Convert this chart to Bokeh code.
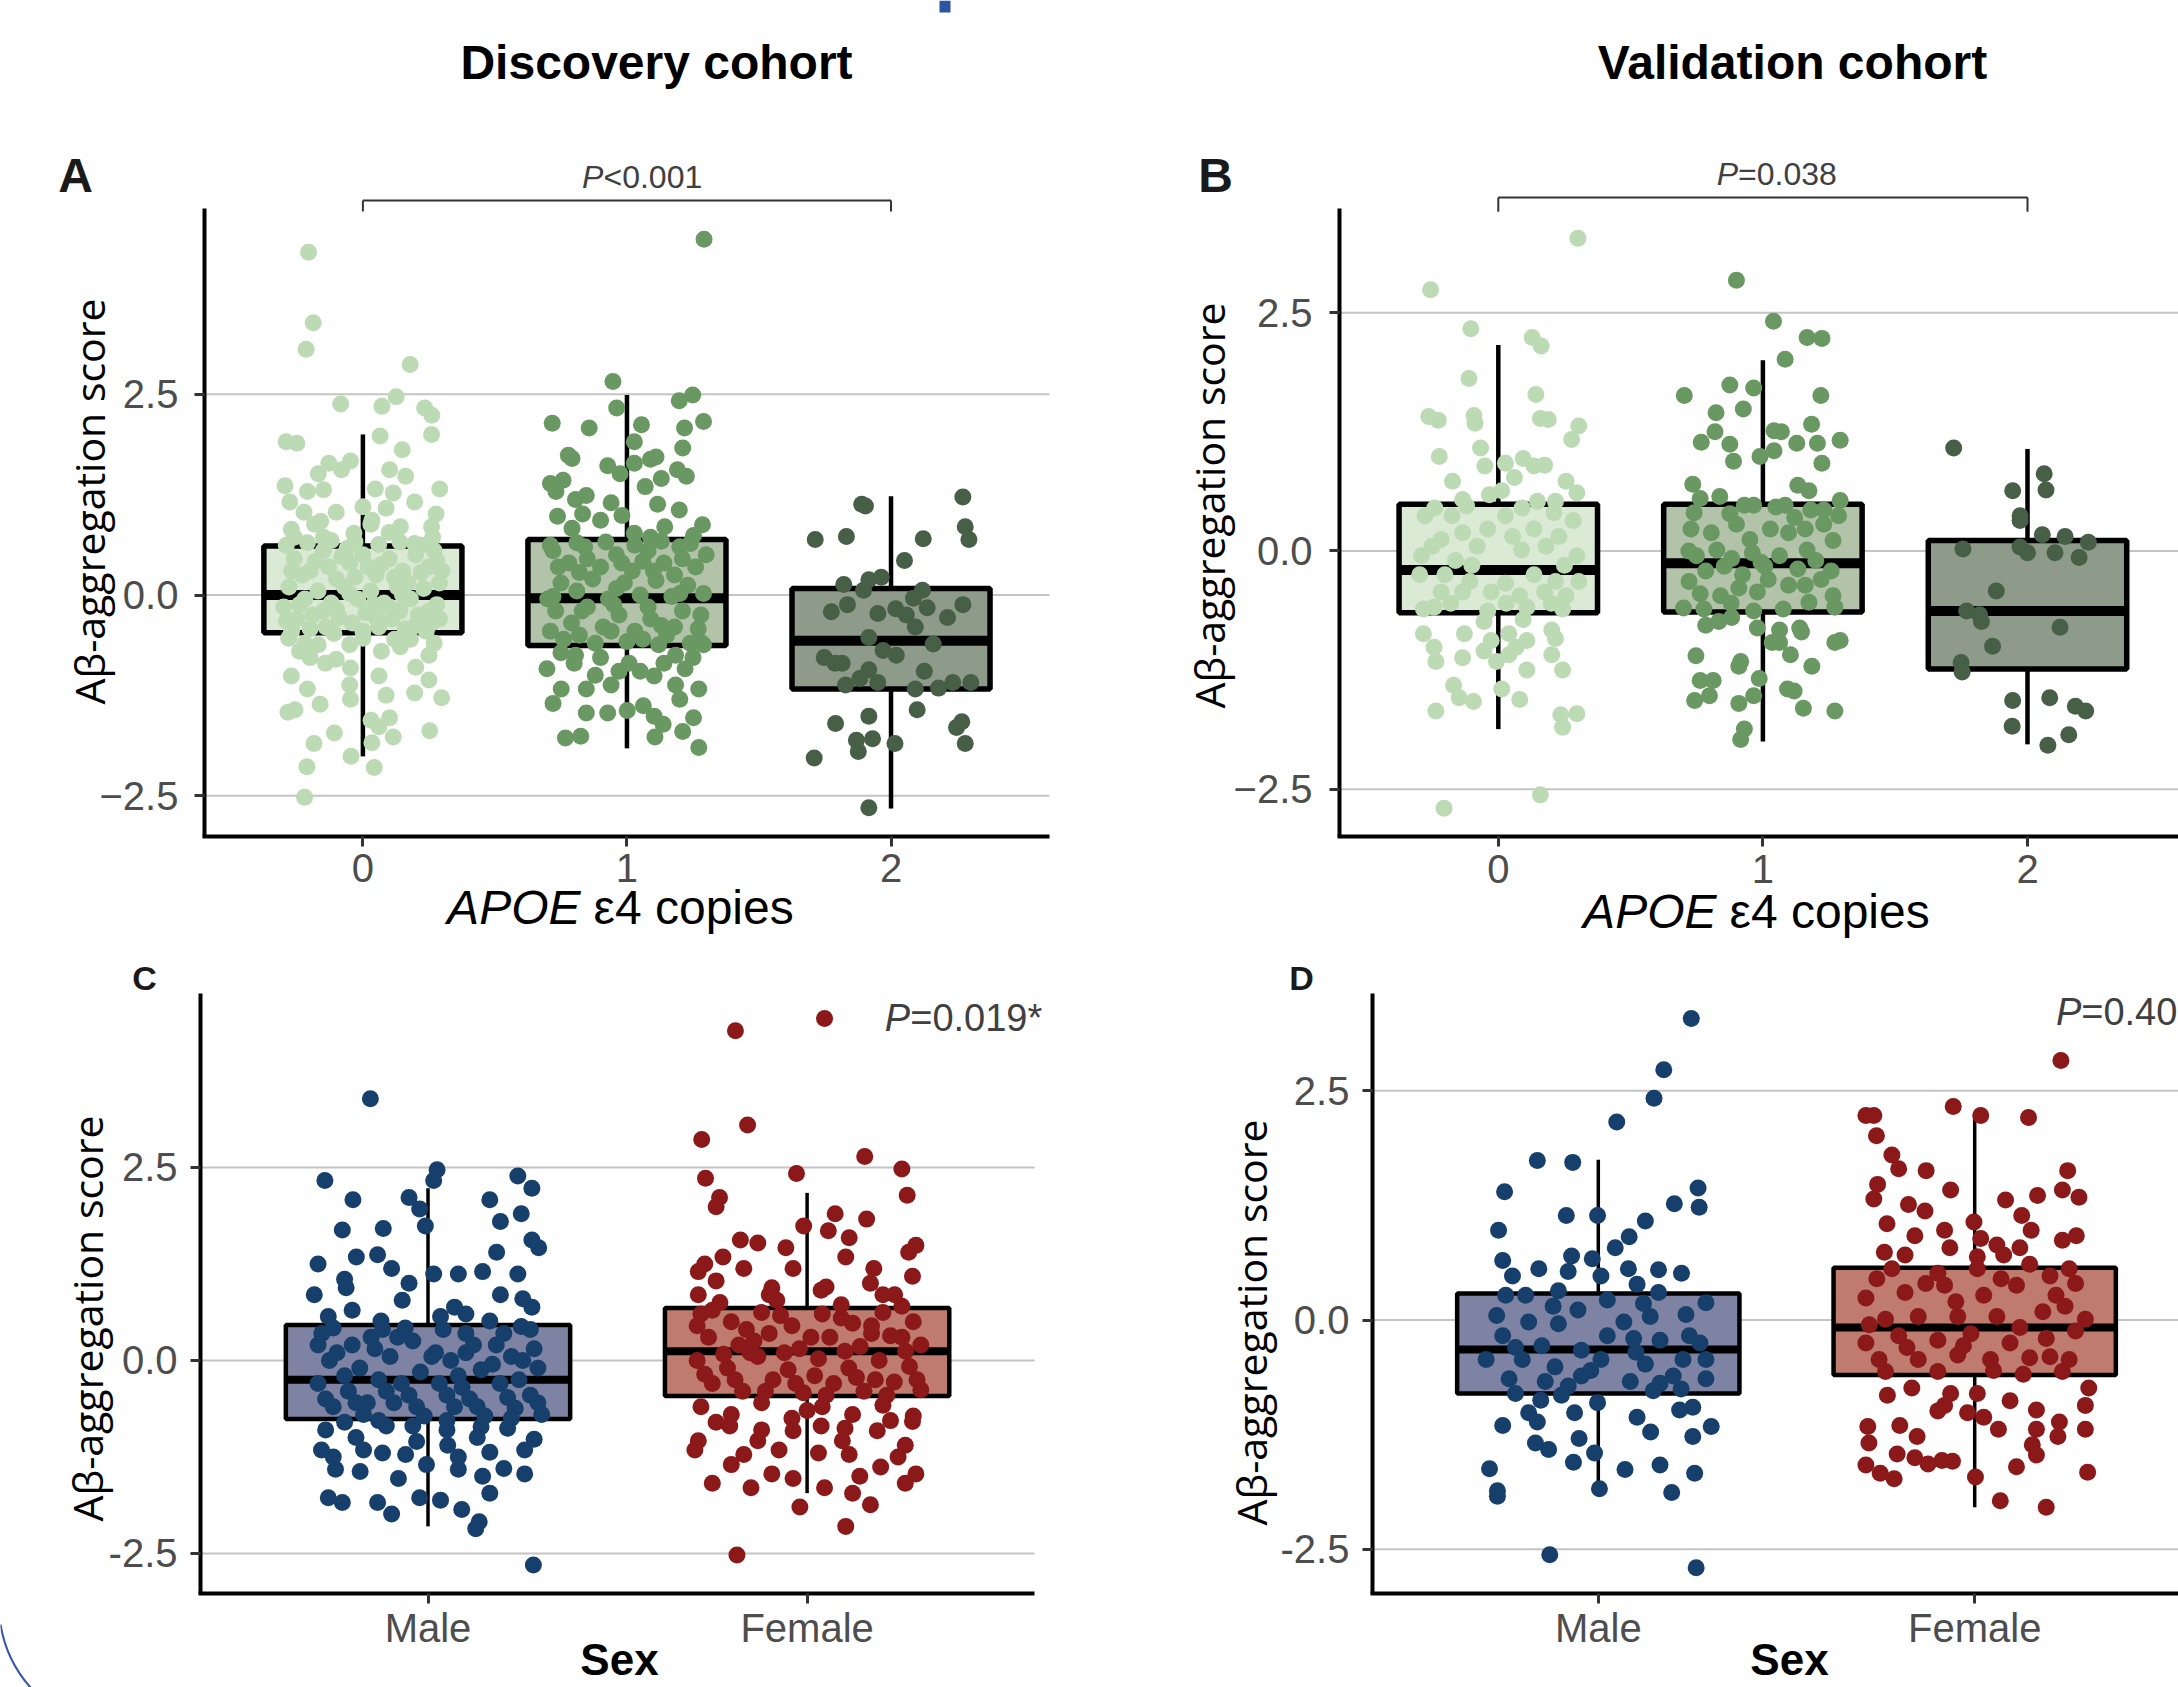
from bokeh.plotting import figure
from bokeh.layouts import column, row
from bokeh.models import Range1d, FixedTicker, Label
from bokeh.embed import file_html
from bokeh.resources import INLINE

# ---------------- data ----------------
apoe_labels = ["0", "1", "2"]
sex_labels = ["Male", "Female"]
y_ticks = [-2.5, 0.0, 2.5]
y_labels_minus = {-2.5: "\u22122.5", 0: "0.0", 2.5: "2.5"}
y_labels_hyphen = {-2.5: "-2.5", 0: "0.0", 2.5: "2.5"}
p_values = {"A": ("P", "<0.001"), "B": ("P", "=0.038"), "C": ("P", "=0.019*"), "D": ("P", "=0.40")}

# box statistics per group: (lower whisker, Q1, median, Q3, upper whisker)
disc_apoe_box = [(-2.01, -0.47, 0.00, 0.61, 2.00),
                 (-1.91, -0.63, -0.04, 0.69, 2.49),
                 (-2.66, -1.17, -0.57, 0.08, 1.23)]
val_apoe_box = [(-1.87, -0.65, -0.20, 0.49, 2.16),
                (-2.00, -0.64, -0.13, 0.49, 2.00),
                (-2.03, -1.24, -0.63, 0.11, 1.07)]
disc_sex_box = [(-2.15, -0.76, -0.25, 0.46, 2.23),
                (-1.72, -0.46, 0.12, 0.68, 2.17)]
val_sex_box = [(-1.76, -0.80, -0.32, 0.29, 1.75),
               (-2.04, -0.60, -0.08, 0.57, 2.20)]

# jittered points: (horizontal jitter offset, score)
disc_e4_0 = [(-0.206,4.27),(-0.188,3.39),(-0.215,3.06),(0.179,2.87),(-0.084,2.38),(0.072,2.35),(0.126,2.47),(0.234,2.33),
 (0.261,2.24),(0.260,2.00),(0.065,1.98),(0.149,1.81),(-0.291,1.91),(-0.250,1.89),(-0.047,1.67),(-0.129,1.64),(-0.081,1.56),
 (-0.169,1.51),(0.101,1.56),(0.162,1.48),(0.291,1.32),(-0.295,1.36),(-0.210,1.29),(-0.149,1.31),(0.047,1.32),(0.115,1.27),
 (0.196,1.16),(0.277,1.01),(-0.277,1.16),(-0.223,1.03),(-0.101,1.03),(0.000,1.10),(0.088,1.08),(-0.271,0.82),(-0.183,0.88),
 (0.142,0.85),(0.264,0.72),(-0.149,0.72),(-0.034,0.77),(0.034,0.93),(0.196,0.64),
 (-0.26,0.45),(-0.20,0.30),(-0.15,0.55),(-0.10,0.20),(-0.05,0.40),(0.00,0.50),(0.05,0.25),(0.10,0.45),(0.15,0.30),(0.20,0.50),
 (0.25,0.35),(0.29,0.15),(-0.28,0.10),(-0.22,-0.05),(-0.17,0.05),(-0.12,-0.10),(-0.07,0.10),(-0.02,-0.05),(0.03,0.05),
 (0.08,-0.10),(0.13,0.10),(0.18,-0.05),(0.23,0.08),(0.28,-0.12),(-0.25,-0.30),(-0.19,-0.25),(-0.14,-0.40),(-0.09,-0.28),
 (-0.04,-0.35),(0.01,-0.22),(0.06,-0.40),(0.11,-0.30),(0.16,-0.42),(0.21,-0.25),(0.26,-0.35),(-0.30,-0.15),(0.30,0.30),
 (-0.23,0.25),(-0.13,0.35),(-0.03,0.22),(0.07,0.38),(0.17,0.15),(0.27,0.55),(-0.27,-0.45),(-0.11,-0.48),(0.04,-0.12),
 (0.14,-0.20),(0.24,-0.45),(-0.06,0.58),
 (-0.29,0.62),(-0.21,0.65),(-0.12,0.68),(-0.03,0.66),(0.06,0.63),(0.14,0.66),(0.22,0.62),(-0.27,0.30),(-0.18,0.42),
 (-0.08,0.48),(0.02,0.35),(0.12,0.22),(0.22,0.28),(0.28,0.42),(-0.24,-0.12),(-0.15,-0.20),(-0.05,0.02),(0.05,-0.28),
 (0.15,0.00),(0.25,-0.20),(-0.29,-0.32),(-0.20,-0.42),(-0.10,-0.18),(0.00,-0.45),(0.10,-0.15),(0.20,-0.38),(0.29,-0.30),
 (-0.26,0.72),(0.10,0.78),(0.26,0.85),(-0.16,0.92),(0.03,0.88),(-0.22,-0.60),(-0.05,-0.62),(0.12,-0.55),(0.27,-0.60),
 (-0.281,-0.54),(-0.169,-0.62),(-0.101,-0.80),(0.000,-0.54),(0.142,-0.645),(0.250,-0.75),(-0.271,-1.01),(-0.210,-1.17),
 (-0.142,-0.85),(-0.047,-0.91),(0.061,-1.01),(0.196,-1.22),(0.298,-1.28),(0.250,-1.06),(-0.162,-1.36),(-0.047,-1.30),
 (0.088,-1.25),(-0.257,-1.43),(-0.284,-1.46),(0.031,-1.56),(0.101,-1.53),(0.061,-1.64),(0.115,-1.77),(0.253,-1.69),
 (-0.108,-1.72),(-0.185,-1.85),(0.034,-1.84),(-0.045,-2.01),(-0.212,-2.14),(0.043,-2.15),(-0.221,-2.52),
 (-0.24,-0.70),(0.07,-0.70),(0.20,-0.90),(-0.05,-1.12),(0.18,-0.55),(-0.20,-0.78)]
disc_e4_1 = [(0.292,4.43),(-0.053,2.66),(-0.039,2.33),(0.198,2.42),(0.249,2.49),(0.290,2.16),(-0.283,2.14),(-0.143,2.08),
 (0.055,2.12),(0.218,2.08),(0.028,1.91),(0.211,1.83),(-0.222,1.74),(-0.208,1.70),(-0.073,1.61),(-0.026,1.51),(0.028,1.64),
 (0.089,1.69),(0.110,1.72),(0.191,1.56),(0.225,1.48),(-0.290,1.39),(-0.242,1.43),(0.069,1.35),(0.130,1.45),(-0.269,1.29),
 (-0.195,1.19),(-0.154,1.24),(-0.060,1.15),(0.116,1.13),(0.198,1.06),(-0.263,0.98),(-0.168,1.01),(-0.100,0.93),(-0.019,0.99),
 (0.143,0.85),(0.286,0.875),(-0.208,0.83),(0.028,0.77),(0.252,0.74),(0.089,0.72),
 (-0.28,0.55),(-0.22,0.40),(-0.16,0.60),(-0.10,0.35),(-0.04,0.50),(0.02,0.30),(0.08,0.55),(0.14,0.40),(0.20,0.60),(0.26,0.35),
 (0.30,0.50),(-0.25,0.15),(-0.19,0.05),(-0.13,0.20),(-0.07,-0.05),(-0.01,0.15),(0.05,0.00),(0.11,0.18),(0.17,-0.02),
 (0.23,0.12),(0.29,0.02),(-0.27,-0.20),(-0.21,-0.35),(-0.15,-0.15),(-0.09,-0.40),(-0.03,-0.25),(0.03,-0.45),(0.09,-0.30),
 (0.15,-0.50),(0.21,-0.20),(0.27,-0.42),(-0.24,-0.55),(-0.12,-0.60),(0.00,-0.58),(0.12,-0.62),(0.24,-0.60),
 (-0.18,0.28),(0.06,0.42),(0.18,0.25),(-0.05,-0.12),(0.13,-0.38),(-0.30,-0.05),
 (-0.29,0.62),(-0.19,0.65),(-0.08,0.66),(0.03,0.62),(0.13,0.67),(0.24,0.64),(-0.26,0.35),(-0.15,0.45),(-0.02,0.40),
 (0.10,0.30),(0.21,0.45),(-0.28,-0.02),(-0.17,-0.20),(-0.04,0.08),(0.08,-0.15),(0.20,0.02),(0.28,-0.25),(-0.29,-0.45),
 (-0.18,-0.50),(-0.06,-0.45),(0.06,-0.55),(0.18,-0.40),(0.29,-0.62),(-0.20,-0.85),(-0.03,-0.95),(0.14,-0.85),(0.25,-0.78),
 (-0.12,-1.00),(0.20,-1.30),(-0.28,-1.35),
 (-0.303,-0.92),(-0.249,-1.17),(-0.154,-1.17),(-0.060,-1.12),(0.008,-0.85),(0.103,-1.01),(0.184,-1.12),(0.272,-1.17),
 (-0.195,-0.75),(0.184,-0.75),(0.279,-0.59),(-0.154,-1.47),(-0.073,-1.47),(0.001,-1.44),(0.062,-1.38),(0.103,-1.51),
 (0.137,-1.61),(0.252,-1.53),(-0.233,-1.78),(-0.175,-1.76),(0.106,-1.77),(0.211,-1.70),(0.272,-1.90),
 (-0.10,-0.78),(0.05,-0.95),(-0.25,-0.72),(0.22,-0.92)]
disc_e4_2 = [(-0.111,1.13),(-0.097,1.11),(0.272,1.22),(-0.287,0.69),(-0.169,0.73),(0.122,0.70),(0.281,0.85),(0.295,0.69),
 (0.051,0.43),(-0.179,0.13),(-0.084,0.19),(-0.037,0.22),(-0.104,0.06),(0.119,0.06),(0.085,-0.04),(-0.226,-0.21),(-0.165,-0.12),
 (-0.050,-0.23),(0.018,-0.17),(0.058,-0.25),(0.137,-0.16),(0.272,-0.12),(0.214,-0.28),(0.092,-0.40),(-0.084,-0.53),
 (-0.030,-0.69),(0.020,-0.75),(0.160,-0.61),(-0.253,-0.78),(-0.212,-0.85),(-0.185,-0.85),(-0.084,-0.93),(0.126,-0.95),
 (-0.172,-1.12),(-0.118,-1.04),(-0.050,-1.09),(0.092,-1.17),(0.180,-1.16),(0.234,-1.09),(0.302,-1.09),(0.099,-1.43),
 (-0.084,-1.51),(-0.210,-1.60),(0.248,-1.65),(0.268,-1.58),(-0.131,-1.81),(-0.070,-1.79),(-0.124,-1.95),(0.015,-1.85),
 (0.281,-1.85),(-0.291,-2.03),(-0.084,-2.65)]

val_e4_0 = [(0.301,3.28),(-0.256,2.74),(-0.104,2.33),(0.128,2.24),(0.162,2.15),(-0.111,1.81),(0.142,1.64),(-0.263,1.41),
 (-0.227,1.37),(-0.092,1.42),(-0.088,1.34),(0.159,1.39),(0.189,1.38),(0.304,1.31),(0.277,1.17),(-0.067,1.08),(-0.223,0.99),
 (-0.051,0.89),(0.027,0.92),(0.094,0.97),(0.135,0.89),(0.175,0.90),(0.061,0.77),(-0.173,0.73),(0.256,0.73),(0.297,0.61),
 (-0.135,0.54),(-0.034,0.59),(0.013,0.63),(0.148,0.52),(0.216,0.52),
 (-0.277,0.37),(-0.175,0.37),(0.027,0.37),(0.283,0.32),(-0.216,0.12),(-0.135,0.19),(-0.040,0.23),(0.054,0.15),(0.135,0.23),
 (0.229,0.15),(-0.290,-0.05),(-0.162,-0.10),(0.088,0.01),(0.297,-0.05),(-0.297,-0.25),(-0.202,-0.25),(-0.108,-0.32),
 (0.027,-0.34),(0.135,-0.25),(0.216,-0.32),(0.304,-0.32),(-0.216,-0.43),(-0.135,-0.43),(-0.027,-0.43),(0.081,-0.47),
 (0.175,-0.43),(0.256,-0.47),(-0.283,-0.61),(-0.243,-0.59),(-0.040,-0.63),(0.108,-0.59),(0.243,-0.61),
 (-0.24,0.45),(-0.12,0.47),(0.09,0.45),(0.21,0.40),(-0.25,0.05),(-0.08,0.05),(0.18,0.05),(-0.18,-0.55),(0.03,-0.55),
 (0.20,-0.55),(-0.10,-0.15),(0.25,-0.15),
 (-0.054,-0.74),(0.094,-0.72),(0.202,-0.83),(0.040,-0.87),(-0.283,-0.87),(-0.128,-0.87),(0.108,-0.94),(0.216,-0.92),
 (-0.027,-0.94),(-0.243,-1.01),(0.067,-1.01),(-0.135,-1.12),(-0.054,-1.05),(0.040,-1.09),(0.202,-1.09),(-0.236,-1.16),
 (-0.007,-1.16),(0.108,-1.25),(0.243,-1.25),(-0.169,-1.41),(-0.148,-1.54),(-0.094,-1.58),(0.013,-1.45),(0.081,-1.56),
 (-0.236,-1.68),(0.236,-1.72),(0.297,-1.71),(0.243,-1.85),(0.159,-2.56),(-0.205,-2.70)]
val_e4_1 = [(-0.100,2.84),(0.040,2.41),(0.167,2.24),(0.223,2.23),(0.084,2.01),(-0.297,1.63),(-0.125,1.74),(-0.035,1.71),
 (0.219,1.63),(-0.177,1.45),(-0.074,1.49),(-0.181,1.25),(-0.233,1.14),(0.042,1.26),(0.070,1.25),(0.184,1.33),(-0.125,1.12),
 (-0.111,0.94),(-0.011,0.99),(0.042,1.05),(0.128,1.13),(0.206,1.13),(0.292,1.16),(0.223,0.92),(-0.265,0.70),(-0.237,0.55),
 (-0.163,0.57),(0.132,0.69),(0.174,0.63),(0.292,0.53),
 (-0.070,0.48),(-0.035,0.48),(0.049,0.46),(0.084,0.48),(-0.125,0.39),(0.181,0.43),(0.230,0.43),(0.286,0.37),(-0.272,0.23),
 (-0.195,0.19),(-0.049,0.12),(0.028,0.23),(0.097,0.19),(0.160,0.23),(0.230,0.28),(0.265,0.11),(-0.251,-0.05),(-0.174,0.01),
 (-0.118,-0.08),(-0.007,-0.12),(0.063,-0.05),(0.167,0.01),(-0.216,-0.21),(-0.146,-0.16),(-0.077,-0.25),(0.007,-0.16),
 (0.132,-0.19),(0.258,-0.21),(-0.279,-0.32),(-0.237,-0.45),(-0.160,-0.47),(-0.091,-0.39),(-0.021,-0.43),(0.097,-0.36),
 (0.160,-0.36),(0.265,-0.47),(-0.223,-0.61),(-0.035,-0.63),(0.077,-0.61),(0.174,-0.54),(0.272,-0.59),
 (-0.26,0.40),(-0.10,0.28),(0.12,0.35),(-0.28,0.00),(-0.04,-0.02),(0.20,-0.10),(-0.12,-0.55),(0.02,-0.30),(0.22,-0.30),
 (-0.30,-0.60),
 (-0.216,-0.78),(-0.167,-0.74),(-0.118,-0.70),(-0.021,-0.81),(0.063,-0.83),(0.139,-0.81),(0.146,-0.85),(0.035,-0.96),
 (0.063,-0.96),(0.104,-1.09),(0.272,-0.96),(0.292,-0.94),(-0.253,-1.10),(-0.091,-1.21),(-0.084,-1.16),(-0.014,-1.34),
 (0.185,-1.21),(-0.237,-1.36),(-0.188,-1.36),(-0.202,-1.52),(-0.258,-1.57),(-0.091,-1.60),(-0.035,-1.52),(0.093,-1.45),
 (0.118,-1.47),(0.153,-1.65),(0.272,-1.68),(-0.070,-1.87),(-0.084,-1.98)]
val_e4_2 = [(-0.279,1.08),(0.063,0.81),(0.070,0.64),(-0.056,0.63),(-0.028,0.37),(-0.028,0.32),(0.056,0.17),(0.142,0.15),
 (0.230,0.09),(-0.244,0.02),(-0.028,0.04),(0.000,-0.02),(0.104,-0.02),(0.195,-0.07),(-0.118,-0.42),(-0.230,-0.63),
 (-0.181,-0.67),(-0.174,-0.74),(0.123,-0.80),(-0.132,-1.00),(-0.251,-1.17),(-0.247,-1.27),(-0.056,-1.57),(0.084,-1.54),
 (0.181,-1.63),(0.220,-1.68),(-0.058,-1.84),(0.156,-1.93),(0.077,-2.04)]

disc_male = [(-0.152,3.39),(-0.272,2.33),(-0.198,2.08),(-0.050,2.11),(0.024,2.47),(0.015,2.33),(-0.022,1.96),(-0.007,1.74),
 (0.163,2.08),(0.237,2.39),(0.274,2.23),(0.246,1.90),(0.191,1.80),(-0.226,1.69),(-0.118,1.71),(0.274,1.56),(0.292,1.46),
 (0.181,1.40),(-0.290,1.25),(-0.189,1.34),(-0.133,1.37),(-0.096,1.19),(0.015,1.12),(0.080,1.12),(0.144,1.15),(0.237,1.12),
 (-0.300,0.85),(-0.216,0.94),(-0.068,0.78),(0.070,0.69),(0.191,0.85),(0.274,0.69),(-0.263,0.57),(-0.124,0.51),(0.033,0.57),
 (0.163,0.51),(0.246,0.44),
 (-0.28,0.35),(-0.20,0.20),(-0.12,0.40),(-0.04,0.25),(0.04,0.40),(0.12,0.20),(0.20,0.35),(0.28,0.15),
 (-0.26,0.00),(-0.18,-0.10),(-0.10,0.05),(-0.02,-0.15),(0.06,0.00),(0.14,-0.12),(0.22,0.05),(0.29,-0.10),
 (-0.29,-0.30),(-0.21,-0.40),(-0.13,-0.25),(-0.05,-0.45),(0.03,-0.30),(0.11,-0.50),(0.19,-0.30),(0.27,-0.45),
 (-0.25,-0.60),(-0.17,-0.70),(-0.09,-0.55),(-0.01,-0.72),(0.07,-0.60),(0.15,-0.72),(0.23,-0.62),(0.30,-0.70),
 (-0.24,0.10),(-0.08,0.30),(0.08,-0.20),(0.24,-0.25),(-0.16,-0.55),(0.10,0.35),
 (-0.25,0.42),(-0.15,0.30),(-0.06,0.42),(0.02,0.10),(0.10,0.10),(0.18,0.20),(0.27,0.40),(-0.29,0.20),(-0.22,-0.20),
 (-0.14,0.15),(-0.07,-0.30),(0.01,0.05),(0.09,-0.35),(0.17,-0.05),(0.25,0.00),(-0.27,-0.50),(-0.19,-0.55),(-0.11,-0.40),
 (-0.03,-0.60),(0.05,-0.45),(0.13,-0.60),(0.21,-0.48),(0.29,-0.55),(-0.22,-0.80),(-0.13,-0.78),(-0.04,-0.85),(0.05,-0.78),
 (0.14,-0.86),(0.22,-0.75),(-0.25,-1.25),(0.08,-1.25),(0.20,-1.40),(-0.12,-1.20),(-0.20,0.65),(0.10,0.60),(0.25,0.80),
 (-0.05,1.00),(-0.22,1.05),
 (-0.27,-0.90),(-0.19,-1.00),(-0.11,-0.85),(-0.03,-1.05),(0.05,-0.90),(0.13,-1.00),(0.21,-0.88),(0.28,-1.02),
 (-0.281,-1.16),(-0.170,-1.16),(-0.059,-1.22),(0.052,-1.10),(0.163,-1.19),(0.255,-1.16),
 (-0.244,-1.41),(-0.179,-1.44),(-0.078,-1.53),(-0.004,-1.35),(0.080,-1.41),(0.144,-1.50),(0.255,-1.47),
 (-0.263,-1.78),(-0.226,-1.84),(-0.133,-1.84),(-0.096,-1.99),(-0.022,-1.78),(0.033,-1.81),(0.089,-1.93),(0.163,-1.72),
 (0.135,-2.09),(0.126,-2.18),(0.278,-2.65)]
disc_female = [(-0.189,4.27),(0.046,4.43),(-0.157,3.05),(-0.278,2.86),(0.152,2.64),(-0.028,2.42),(0.250,2.48),(-0.268,2.36),
 (0.264,2.14),(-0.231,2.11),(-0.240,1.99),(0.074,1.90),(0.157,1.83),(-0.009,1.74),(0.056,1.68),(0.111,1.59),(-0.176,1.56),
 (-0.130,1.52),(0.287,1.49),(0.268,1.40),(-0.056,1.46),(0.102,1.34),(-0.222,1.34),(-0.287,1.15),(-0.167,1.19),(-0.037,1.19),
 (0.176,1.19),(0.278,1.09),(-0.240,1.03),(-0.093,0.94),(0.037,0.91),(0.167,1.00),(-0.287,0.85),(0.231,0.85),
 (-0.28,0.60),(-0.20,0.50),(-0.12,0.62),(-0.04,0.45),(0.04,0.60),(0.12,0.48),(0.20,0.62),(0.28,0.50),
 (-0.26,0.30),(-0.18,0.20),(-0.10,0.35),(-0.02,0.15),(0.06,0.30),(0.14,0.18),(0.22,0.32),(0.30,0.20),
 (-0.29,0.00),(-0.21,-0.10),(-0.13,0.05),(-0.05,-0.12),(0.03,0.02),(0.11,-0.10),(0.19,0.00),(0.27,-0.08),
 (-0.25,-0.30),(-0.17,-0.40),(-0.09,-0.25),(-0.01,-0.42),(0.07,-0.30),(0.15,-0.40),(0.23,-0.28),(0.30,-0.38),
 (-0.23,0.75),(-0.08,0.78),(0.09,0.72),(0.25,0.70),(-0.15,0.10),(0.17,0.35),
 (-0.25,0.65),(-0.16,0.40),(-0.07,0.58),(0.01,0.30),(0.09,0.55),(0.17,0.45),(0.25,0.30),(-0.29,0.45),(-0.22,0.08),
 (-0.14,0.25),(-0.06,0.10),(0.02,-0.20),(0.10,0.12),(0.18,-0.25),(0.26,0.12),(-0.27,-0.18),(-0.19,-0.25),(-0.11,-0.40),
 (-0.03,-0.30),(0.05,-0.45),(0.13,-0.22),(0.21,-0.45),(0.29,-0.25),(-0.24,-0.80),(-0.12,-0.90),(0.00,-0.65),(0.10,-0.88),
 (0.22,-0.78),(-0.20,-1.35),(0.03,-1.20),(0.24,-1.25),(-0.10,0.85),(0.05,0.95),(0.20,0.85),(-0.27,1.25),
 (-0.28,-0.60),(-0.20,-0.70),(-0.12,-0.55),(-0.04,-0.75),(0.04,-0.60),(0.12,-0.70),(0.20,-0.58),(0.28,-0.72),
 (-0.287,-1.04),(-0.204,-0.85),(-0.130,-1.04),(-0.037,-0.91),(0.037,-0.85),(0.093,-1.04),(0.185,-0.91),(0.278,-0.79),
 (-0.296,-1.16),(-0.167,-1.22),(-0.074,-1.16),(0.111,-1.22),(0.259,-1.10),
 (-0.250,-1.59),(-0.148,-1.65),(-0.093,-1.47),(-0.037,-1.53),(0.046,-1.65),(0.139,-1.50),(0.194,-1.38),(0.259,-1.59),
 (0.287,-1.47),(-0.019,-1.90),(0.120,-1.72),(0.167,-1.87),(0.102,-2.15),(-0.185,-2.52)]

val_male = [(0.247,3.29),(0.174,2.73),(0.148,2.42),(0.049,2.16),(-0.162,1.74),(-0.068,1.72),(-0.249,1.40),(0.265,1.44),
 (0.202,1.27),(0.268,1.23),(-0.085,1.14),(-0.002,1.14),(0.125,1.08),(-0.265,0.98),(0.082,0.91),(0.045,0.79),(-0.254,0.65),
 (-0.071,0.70),(-0.016,0.67),(-0.158,0.56),(-0.080,0.53),(0.007,0.48),(0.080,0.56),(0.160,0.55),(0.221,0.51),(-0.228,0.48),
 (0.103,0.39),(-0.106,0.32),
 (-0.246,0.27),(-0.193,0.27),(0.024,0.22),(0.160,0.30),(0.286,0.19),
 (-0.185,-0.02),(-0.106,-0.04),(-0.054,0.11),(0.068,-0.02),(0.138,0.04),(0.233,0.06),
 (-0.254,-0.17),(-0.150,-0.28),(-0.045,-0.33),(0.024,-0.17),(0.094,-0.20),(0.164,-0.22),(0.242,-0.17),
 (-0.298,-0.43),(-0.202,-0.43),(-0.115,-0.51),(0.007,-0.43),(0.125,-0.48),(0.225,-0.43),(0.286,-0.43),
 (-0.237,-0.64),(-0.141,-0.67),(-0.045,-0.61),(0.085,-0.67),(0.164,-0.69),(0.199,-0.61),(0.286,-0.64),
 (-0.220,-0.80),(-0.098,-0.82),(0.146,-0.77),
 (-0.27,0.05),(-0.12,0.15),(0.12,0.18),(0.27,-0.25),(-0.22,-0.30),(-0.02,-0.55),(0.10,-0.35),(0.22,-0.75),(-0.08,-0.72),
 (-0.185,-1.01),(-0.063,-1.01),(-0.002,-0.90),(0.216,-0.98),(0.251,-0.95),(-0.153,-0.875),
 (-0.254,-1.15),(-0.162,-1.11),(0.103,-1.06),(0.139,-1.22),(0.251,-1.27),(0.300,-1.16),
 (-0.167,-1.34),(-0.132,-1.41),(-0.051,-1.29),(-0.010,-1.45),
 (-0.066,-1.55),(0.071,-1.63),(0.164,-1.58),(0.256,-1.67),
 (-0.289,-1.62),(-0.268,-1.86),(-0.268,-1.92),(0.003,-1.84),(0.195,-1.88),
 (-0.129,-2.56),(0.260,-2.70)]
val_female = [(0.229,2.83),(-0.057,2.33),(0.016,2.23),(0.143,2.21),(-0.289,2.23),(-0.268,2.23),(-0.261,2.01),(-0.220,1.80),
 (-0.202,1.65),(-0.129,1.63),(0.247,1.63),(-0.258,1.48),(-0.064,1.42),(0.233,1.42),(0.277,1.34),(-0.268,1.32),(0.082,1.31),
 (0.167,1.36),(-0.176,1.26),(-0.132,1.19),(0.125,1.14),(-0.233,1.05),(-0.002,1.07),(-0.080,0.98),(0.150,0.98),(-0.159,0.92),
 (0.270,0.92),(0.233,0.87),(0.016,0.89),(-0.066,0.79),(0.059,0.82),(0.120,0.79),(-0.240,0.74),(-0.185,0.71),(0.007,0.69),
 (0.077,0.71),
 (-0.220,0.56),(-0.098,0.51),(0.007,0.56),(0.146,0.61),(0.251,0.56),
 (-0.289,0.24),(-0.185,0.30),(-0.080,0.38),(0.024,0.27),(0.111,0.38),(0.216,0.27),(0.268,0.40),
 (-0.237,0.01),(-0.150,0.04),(-0.045,0.04),(0.059,0.04),(0.181,0.09),(0.294,0.01),
 (-0.289,-0.25),(-0.202,-0.17),(-0.098,-0.22),(-0.010,-0.15),(0.094,-0.25),(0.190,-0.20),(0.268,-0.12),
 (-0.254,-0.43),(-0.150,-0.43),(-0.045,-0.38),(0.042,-0.43),(0.146,-0.41),(0.251,-0.43),
 (-0.237,-0.56),(-0.098,-0.56),(0.129,-0.59),(0.233,-0.56),
 (-0.26,0.45),(-0.13,0.40),(0.07,0.45),(0.20,0.48),(-0.28,-0.05),(-0.03,-0.28),(0.12,-0.08),(0.24,0.15),(-0.18,-0.30),
 (0.05,-0.55),(0.20,-0.40),(-0.05,0.20),
 (0.303,-0.74),(-0.167,-0.74),(-0.064,-0.80),(0.007,-0.80),
 (-0.232,-0.82),(-0.080,-0.93),(0.094,-0.88),(0.294,-0.93),
 (-0.098,-0.99),(-0.019,-1.01),(0.024,-1.06),(0.164,-0.98),(0.225,-1.11),
 (-0.284,-1.16),(-0.199,-1.15),(0.063,-1.19),(0.164,-1.19),(0.294,-1.19),
 (-0.281,-1.34),(-0.153,-1.27),(0.221,-1.27),(0.153,-1.36),
 (-0.206,-1.46),(-0.159,-1.50),(-0.087,-1.53),(0.164,-1.47),
 (-0.289,-1.58),(-0.251,-1.67),(-0.214,-1.73),(-0.124,-1.57),(-0.059,-1.54),(0.111,-1.60),(0.300,-1.66),
 (0.002,-1.71),(0.068,-1.97),(0.190,-2.04)]

apoe_point_colors = ["#bcdbb4", "#6a9862", "#465f46"]
apoe_box_fills = ["#dbead5", "#b2c3aa", "#8f9b8a"]
sex_point_colors = ["#163f6b", "#8b1919"]
sex_box_fills = ["#7f83a3", "#bf7b6d"]

FONT = "Liberation Sans"
YTITLE = "A\u03b2-aggregation score"


class Geo:
    """page geometry of one panel: figure box and data->pixel mapping"""
    def __init__(self, left, top, width, height, x0, sx, y0, sy):
        self.left, self.top, self.width, self.height = left, top, width, height
        self.x0, self.sx, self.y0, self.sy = x0, sx, y0, sy

    def xr(self):
        return ((self.left - self.x0) / self.sx, (self.left + self.width - self.x0) / self.sx)

    def yr(self):
        return ((self.y0 - self.top - self.height) / self.sy, (self.y0 - self.top) / self.sy)

    def scr(self, X, Y):
        return X - self.left, self.top + self.height - Y

    def data(self, X, Y):
        return (X - self.x0) / self.sx, (self.y0 - Y) / self.sy


def make_panel(g, x_end, y_bot, y_top, cats, ylab_over, boxes, groups, pt_cols, fills,
               box_lw, med_lw, wh_lw, xstand, ystand):
    xr, yr = g.xr(), g.yr()
    x_end = min(x_end, xr[1])
    p = figure(width=g.width, height=g.height,
               x_range=Range1d(*xr), y_range=Range1d(*yr),
               output_backend="svg", toolbar_location=None,
               min_border_left=0, min_border_right=0, min_border_top=0, min_border_bottom=0)
    p.outline_line_color = None
    p.background_fill_color = "white"
    p.border_fill_color = "white"
    p.grid.visible = False
    # horizontal reference lines at the y ticks, across the panel only
    p.segment(x0=[-0.6] * len(y_ticks), x1=[x_end] * len(y_ticks), y0=y_ticks, y1=y_ticks,
              line_color="#c4c4c4", line_width=2)
    xa = p.xaxis[0]
    ya = p.yaxis[0]
    xa.fixed_location = y_bot
    ya.fixed_location = -0.6
    xa.ticker = FixedTicker(ticks=list(range(len(cats))))
    xa.major_label_overrides = {i: c for i, c in enumerate(cats)}
    ya.ticker = FixedTicker(ticks=y_ticks)
    ya.major_label_overrides = ylab_over
    ya.bounds = (y_bot, y_top)
    xa.bounds = (-0.6 - 2.0 / g.sx, x_end)
    for ax in (xa, ya):
        ax.axis_line_color = "black"
        ax.axis_line_width = 4
        ax.major_tick_line_color = "#333333"
        ax.major_tick_line_width = 3
        ax.major_tick_out = 10
        ax.major_tick_in = 0
        ax.minor_tick_line_color = None
        ax.major_label_text_font = FONT
        ax.major_label_text_font_size = "40px"
        ax.major_label_text_color = "#4d4d4d"
    xa.major_label_standoff = xstand
    ya.major_label_standoff = ystand

    xs = list(range(len(cats)))
    lo = [b[0] for b in boxes]
    q1 = [b[1] for b in boxes]
    md = [b[2] for b in boxes]
    q3 = [b[3] for b in boxes]
    hi = [b[4] for b in boxes]
    p.segment(x0=xs, x1=xs, y0=q3, y1=hi, line_color="black", line_width=wh_lw)
    p.segment(x0=xs, x1=xs, y0=lo, y1=q1, line_color="black", line_width=wh_lw)
    p.vbar(x=xs, width=0.75, bottom=q1, top=q3, fill_color=fills,
           line_color="black", line_width=box_lw)
    p.segment(x0=[x - 0.375 for x in xs], x1=[x + 0.375 for x in xs], y0=md, y1=md,
              line_color="black", line_width=med_lw)
    for i, (grp, c) in enumerate(zip(groups, pt_cols)):
        p.scatter(x=[i + d for d, _ in grp], y=[v for _, v in grp], size=17,
                  fill_color=c, line_color=None)
    return p


def add_label(p, x, y, text, size, style="normal", color="black", align="center",
              units="screen", font=FONT, angle=0):
    p.add_layout(Label(x=x, y=y, x_units=units, y_units=units, text=text,
                       text_font=font, text_font_size=size, text_font_style=style,
                       text_color=color, text_align=align, text_baseline="middle",
                       angle=angle, angle_units="deg"))


def add_page_label(p, g, X, Y, text, size, **kw):
    sx, sy = g.scr(X, Y)
    add_label(p, sx, sy, text, size, **kw)


# page geometry (pixels)
gA = Geo(0, 0, 1140, 945, 362.4, 264.06, 594.5, 80.28)
gB = Geo(1140, 0, 1038, 945, 1497.8, 264.6, 550.4, 95.3)
gC = Geo(0, 945, 1180, 742, 427.5, 379.1, 1359.9, 77.2)
gD = Geo(1180, 945, 998, 742, 1597.8, 376.4, 1319.6, 91.7)

# ---------- Panel A ----------
pA = make_panel(gA, 2.6, -3.008, 4.814, apoe_labels, y_labels_minus, disc_apoe_box,
                [disc_e4_0, disc_e4_1, disc_e4_2], apoe_point_colors, apoe_box_fills,
                5.5, 10, 4.5, 8, 16)
pA.segment(x0=[0, 0, 2], x1=[2, 0, 2], y0=[4.914, 4.914, 4.914], y1=[4.914, 4.777, 4.777],
           line_color="#333333", line_width=2)
add_label(pA, 0.911, 5.213, p_values["A"][0], "32px", style="italic", color="#404040", align="right", units="data")
add_label(pA, 0.911, 5.213, p_values["A"][1], "32px", color="#404040", align="left", units="data")
add_page_label(pA, gA, 656, 62, "Discovery cohort", "48px", style="bold")
add_page_label(pA, gA, 75, 175, "A", "48px", style="bold", color="#1a1a1a")
add_page_label(pA, gA, 580, 907, "APOE", "48px", style="italic", align="right")
add_page_label(pA, gA, 593, 907, "\u03b54 copies", "48px", align="left")
add_page_label(pA, gA, 88, 501, YTITLE, "41px", font="Open Sans", angle=90)
# small blue fragment of the surrounding figure at the top edge
bx0, by0 = gA.data(939, 12)
bx1, by1 = gA.data(950, 0)
pA.quad(left=[bx0], right=[bx1], bottom=[by0], top=[by1], fill_color="#2e55a2", line_color=None)

# ---------- Panel B ----------
pB = make_panel(gB, 2.6, -2.997, 3.593, apoe_labels, y_labels_minus, val_apoe_box,
                [val_e4_0, val_e4_1, val_e4_2], apoe_point_colors, apoe_box_fills,
                5.5, 10, 4.5, 8, 17)
pB.segment(x0=[0, 0, 2], x1=[2, 0, 2], y0=[3.708, 3.708, 3.708], y1=[3.708, 3.56, 3.56],
           line_color="#333333", line_width=2)
add_label(pB, 0.906, 3.954, p_values["B"][0], "32px", style="italic", color="#404040", align="right", units="data")
add_label(pB, 0.906, 3.954, p_values["B"][1], "32px", color="#404040", align="left", units="data")
add_page_label(pB, gB, 1792, 62, "Validation cohort", "48px", style="bold")
add_page_label(pB, gB, 1215, 175, "B", "48px", style="bold", color="#1a1a1a")
add_page_label(pB, gB, 1716, 911, "APOE", "48px", style="italic", align="right")
add_page_label(pB, gB, 1729, 911, "\u03b54 copies", "48px", align="left")
add_page_label(pB, gB, 1208, 505, YTITLE, "41px", font="Open Sans", angle=90)

# ---------- Panel C ----------
pC = make_panel(gC, 1.6, -3.019, 4.753, sex_labels, y_labels_hyphen, disc_sex_box,
                [disc_male, disc_female], sex_point_colors, sex_box_fills,
                4.5, 8, 3.5, 3, 13)
add_label(pC, 1.272, 4.44, p_values["C"][0], "38px", style="italic", color="#404040", align="right", units="data")
add_label(pC, 1.272, 4.44, p_values["C"][1], "38px", color="#404040", align="left", units="data")
add_page_label(pC, gC, 144, 977, "C", "34px", style="bold", color="#1a1a1a")
add_page_label(pC, gC, 619, 1659, "Sex", "44px", style="bold")
add_page_label(pC, gC, 86, 1318, YTITLE, "41px", font="Open Sans", angle=90)
# thin blue arc fragment at the lower-left corner
ax0, ay0 = gC.data(0, 1624)
axm, aym = gC.data(6, 1660)
ax1, ay1 = gC.data(30, 1687)
pC.quadratic(x0=[ax0], y0=[ay0], x1=[ax1], y1=[ay1], cx=[axm], cy=[aym],
             line_color="#3556a8", line_width=2)

# ---------- Panel D ----------
pD = make_panel(gD, 1.6, -2.981, 3.562, sex_labels, y_labels_hyphen, val_sex_box,
                [val_male, val_female], sex_point_colors, sex_box_fills,
                4.5, 8, 3.5, 3, 13)
add_label(pD, 1.283, 3.365, p_values["D"][0], "38px", style="italic", color="#404040", align="right", units="data")
add_label(pD, 1.283, 3.365, p_values["D"][1], "38px", color="#404040", align="left", units="data")
add_page_label(pD, gD, 1301, 977, "D", "34px", style="bold", color="#1a1a1a")
add_page_label(pD, gD, 1789, 1659, "Sex", "44px", style="bold")
add_page_label(pD, gD, 1250, 1322, YTITLE, "41px", font="Open Sans", angle=90)

layout = column(row(pA, pB), row(pC, pD))
open("out.html", "w").write(file_html(layout, INLINE))
